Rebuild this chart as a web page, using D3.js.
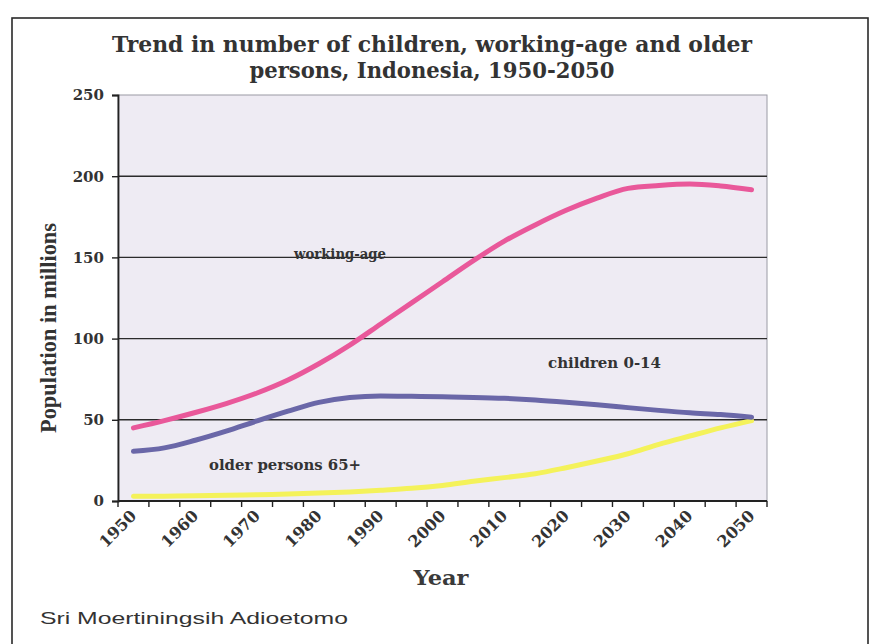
<!DOCTYPE html>
<html>
<head>
<meta charset="utf-8">
<script src="https://cdn.jsdelivr.net/npm/d3@7"></script>
<style>
  html, body { margin: 0; padding: 0; background: #fff; }
  svg { display: block; }
</style>
</head>
<body>
<svg id="chart" width="871" height="644"></svg>
<script>
// Population of Indonesia by broad age group, millions, 1950-2050 (5-year steps)
const years = ["1950","1955","1960","1965","1970","1975","1980","1985","1990","1995","2000",
               "2005","2010","2015","2020","2025","2030","2035","2040","2045","2050"];
const workingAge = [45, 49.5, 54.5, 60, 66.5, 74.5, 84.5, 96, 109, 122, 135,
                    148, 160, 170, 179, 186.5, 192.5, 194.3, 195.2, 194, 191.7];
const children   = [30.6, 32.7, 37.4, 43, 49.3, 55.3, 60.7, 63.7, 64.7, 64.5, 64.2,
                    63.8, 63.2, 62.2, 60.8, 59.2, 57.5, 55.8, 54.3, 53.2, 51.6];
const older      = [2.9, 3.0, 3.2, 3.5, 3.9, 4.3, 4.9, 5.6, 6.6, 7.8, 9.6,
                    12.1, 14.4, 16.8, 20.5, 24.6, 29.1, 34.9, 40, 45, 49.5];
const xTickLabels = ["1950","1960","1970","1980","1990","2000","2010","2020","2030","2040","2050"];
const yTicks = [0, 50, 100, 150, 200, 250];

const seriesNames  = ["working-age", "children 0-14", "older persons 65+"];
const seriesColors = ["#e9589a", "#6a67a8", "#f4f25a"];

const svg = d3.select("#chart");
const W = 871, H = 644;
const plot = { left: 118, right: 767, top: 95, bottom: 501 };

const serif = "'DejaVu Serif', serif";
const timesLike = "'Liberation Serif', 'Times New Roman', serif";
const ink = "#333";

svg.append("rect").attr("width", W).attr("height", H).attr("fill", "#fff");

// page frame
svg.append("rect")
  .attr("x", 12).attr("y", 18).attr("width", 856).attr("height", 660)
  .attr("fill", "none").attr("stroke", "#2a2a2a").attr("stroke-width", 1.6);

const x = d3.scaleBand().domain(years).range([plot.left, plot.right]).padding(0);
const y = d3.scaleLinear().domain([0, 250]).range([plot.bottom, plot.top]);

// plot background
svg.append("rect")
  .attr("x", plot.left).attr("y", plot.top)
  .attr("width", plot.right - plot.left).attr("height", plot.bottom - plot.top)
  .attr("fill", "#eeebf3").attr("stroke", "#9a9aa4").attr("stroke-width", 1);

// horizontal gridlines
svg.append("g").selectAll("line")
  .data(yTicks.filter(v => v > 0 && v < 250))
  .join("line")
  .attr("x1", plot.left).attr("x2", plot.right)
  .attr("y1", d => y(d)).attr("y2", d => y(d))
  .attr("stroke", "#2b2b2b").attr("stroke-width", 1.4);

// y axis
const yAxis = d3.axisLeft(y).tickValues(yTicks).tickSize(6).tickPadding(8).tickFormat(d3.format("d"));
const gy = svg.append("g").attr("transform", `translate(${plot.left},0)`).call(yAxis);
gy.select(".domain").attr("stroke", "#222").attr("stroke-width", 1.8);
gy.selectAll(".tick line").attr("stroke", "#222").attr("stroke-width", 1.4);
gy.selectAll(".tick text")
  .attr("font-family", serif).attr("font-weight", "bold").attr("font-size", 15)
  .attr("fill", ink);

// x axis: ticks at category boundaries, labels every ten years
const boundaries = years.map(d => x(d)).concat([plot.right]);
svg.append("line")
  .attr("x1", plot.left).attr("x2", plot.right)
  .attr("y1", plot.bottom).attr("y2", plot.bottom)
  .attr("stroke", "#222").attr("stroke-width", 1.8);
svg.append("g").selectAll("line")
  .data(boundaries)
  .join("line")
  .attr("x1", d => d).attr("x2", d => d)
  .attr("y1", plot.bottom).attr("y2", plot.bottom + 6)
  .attr("stroke", "#222").attr("stroke-width", 1.4);

svg.append("g").selectAll("text")
  .data(xTickLabels)
  .join("text")
  .attr("transform", d => `translate(${x(d) + x.bandwidth() / 2 + 4},${plot.bottom + 16}) rotate(-45)`)
  .attr("text-anchor", "end")
  .attr("font-family", serif).attr("font-weight", "bold").attr("font-size", 16)
  .attr("fill", ink)
  .text(d => d);

// series lines
const series = [workingAge, children, older];
const line = d3.line()
  .x((d, i) => x(years[i]) + x.bandwidth() / 2)
  .y(d => y(d))
  .curve(d3.curveMonotoneX);

// yellow first so the other two sit on top of it
[2, 1, 0].forEach(k => {
  svg.append("path")
    .datum(series[k])
    .attr("d", line)
    .attr("fill", "none")
    .attr("stroke", seriesColors[k])
    .attr("stroke-width", 5)
    .attr("stroke-linecap", "round")
    .attr("stroke-linejoin", "round");
});

// series labels
const labelPos = [
  { x: 294, y: 259, w: 92 },
  { x: 548, y: 368, w: 113 },
  { x: 209, y: 470, w: 152 }
];
seriesNames.forEach((name, k) => {
  svg.append("text")
    .attr("x", labelPos[k].x).attr("y", labelPos[k].y)
    .attr("font-family", serif).attr("font-weight", "bold").attr("font-size", 15)
    .attr("fill", ink)
    .attr("textLength", labelPos[k].w).attr("lengthAdjust", "spacingAndGlyphs")
    .text(name);
});

// title
const titleLines = ["Trend in number of children, working-age and older",
                    "persons, Indonesia, 1950-2050"];
const titleW = [640, 365];
titleLines.forEach((t, i) => {
  svg.append("text")
    .attr("x", 432).attr("y", 52 + i * 26)
    .attr("text-anchor", "middle")
    .attr("font-family", serif).attr("font-weight", "bold").attr("font-size", 21.5)
    .attr("fill", "#333")
    .attr("textLength", titleW[i]).attr("lengthAdjust", "spacingAndGlyphs")
    .text(t);
});

// axis titles
svg.append("text")
  .attr("transform", `translate(56,328) rotate(-90)`)
  .attr("text-anchor", "middle")
  .attr("font-family", timesLike).attr("font-weight", "bold").attr("font-size", 24)
  .attr("fill", "#333")
  .attr("textLength", 210).attr("lengthAdjust", "spacingAndGlyphs")
  .text("Population in millions");

svg.append("text")
  .attr("x", 441).attr("y", 585)
  .attr("text-anchor", "middle")
  .attr("font-family", serif).attr("font-weight", "bold").attr("font-size", 21)
  .attr("fill", "#3a3a3a")
  .attr("textLength", 55).attr("lengthAdjust", "spacingAndGlyphs")
  .text("Year");

// author credit
svg.append("text")
  .attr("x", 40).attr("y", 624)
  .attr("font-family", "'Liberation Sans', Arial, sans-serif").attr("font-size", 17)
  .attr("fill", "#333")
  .attr("textLength", 308).attr("lengthAdjust", "spacingAndGlyphs")
  .text("Sri Moertiningsih Adioetomo");
</script>
</body>
</html>
